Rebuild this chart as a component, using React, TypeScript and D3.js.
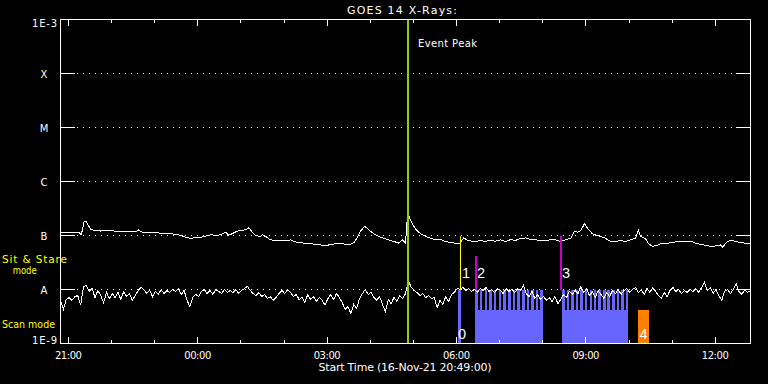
import React from "react";
import * as d3 from "d3";

// ---------------- data ----------------
const startTime = Date.UTC(2021, 10, 16, 20, 49, 0); // 16-Nov-21 20:49:00
const durationHours = 16;
const titleText = "GOES 14 X-Rays:";
const axisTitle = "Start Time (16-Nov-21 20:49:00)";

const levelLabels = ["1E-3", "X", "M", "C", "B", "A", "1E-9"];
const levelFlux = [1e-3, 1e-4, 1e-5, 1e-6, 1e-7, 1e-8, 1e-9];

// GOES long channel (1-8 A): [minutes after start, flux in 1e-9 W/m^2]
const longChannel: [number, number][] = [
  [0, 112], [26, 112], [29, 104], [33, 182], [36, 178], [42, 129], [49, 124], [56, 121], [63, 124], [70, 124],
  [77, 119], [84, 120], [90, 116], [97, 119], [104, 116], [109, 127], [113, 116], [118, 114], [125, 114], [132, 112],
  [139, 111], [146, 108], [153, 107], [160, 106], [167, 101], [175, 92], [181, 89], [188, 91], [195, 93], [202, 97],
  [209, 103], [216, 101], [223, 103], [230, 115], [234, 101], [239, 108], [245, 119], [250, 124], [257, 127], [262, 139],
  [267, 115], [271, 100], [278, 96], [281, 103], [287, 93], [292, 83], [299, 81], [306, 82], [313, 80], [320, 83],
  [328, 75], [334, 73], [341, 72], [348, 70], [355, 69], [362, 67], [369, 64], [376, 69], [383, 70], [390, 71],
  [397, 69], [404, 69], [409, 75], [413, 93], [417, 119], [423, 147], [427, 137], [431, 120], [438, 103], [445, 93],
  [452, 87], [459, 81], [466, 76], [470, 72], [476, 83], [480, 72], [483, 267], [487, 190], [491, 153], [495, 127],
  [501, 108], [508, 96], [515, 89], [522, 83], [529, 84], [536, 77], [543, 74], [550, 72], [555, 70], [561, 91],
  [565, 83], [570, 80], [577, 76], [584, 81], [591, 77], [598, 82], [605, 78], [612, 83], [619, 77], [626, 84],
  [633, 81], [640, 89], [647, 90], [654, 84], [661, 83], [668, 81], [675, 80], [682, 84], [689, 83], [696, 77],
  [703, 84], [710, 89], [715, 120], [719, 115], [724, 124], [729, 165], [735, 127], [740, 108], [746, 100], [751, 96],
  [758, 89], [765, 78], [772, 77], [779, 81], [786, 77], [793, 83], [800, 89], [804, 124], [807, 96], [814, 87],
  [818, 70], [824, 63], [829, 65], [835, 70], [842, 72], [849, 73], [856, 76], [863, 78], [870, 76], [877, 78],
  [884, 72], [890, 69], [897, 66], [904, 63], [911, 64], [918, 67], [921, 61], [927, 75], [932, 81], [939, 78],
  [946, 74], [953, 72], [960, 70],
];

// GOES short channel (0.5-4 A): one value every 4 minutes, flux in 1e-9 W/m^2
const shortCadenceMin = 4;
const shortChannel: number[] = [
  6.3, 4.3, 6.5, 7.1, 6.3, 7.4, 7.7, 5.1, 11.4, 11.9,
  9.2, 10.4, 7.1, 9.6, 7.7, 5.7, 8.8, 6.8, 8.4, 7.1,
  8.8, 6.5, 9.2, 7.4, 8.4, 6.3, 7.7, 9.6, 10.9, 10.0,
  8.4, 9.6, 7.4, 9.2, 8.1, 10.0, 8.4, 9.6, 8.8, 10.0,
  9.2, 10.4, 8.1, 9.6, 6.3, 4.8, 7.1, 8.1, 7.4, 9.2,
  10.0, 8.4, 9.6, 8.1, 10.0, 9.2, 8.4, 10.0, 8.8, 9.6,
  8.8, 10.0, 8.4, 9.6, 10.4, 11.4, 9.6, 8.4, 7.7, 8.8,
  7.4, 8.1, 6.8, 7.4, 6.3, 7.1, 8.4, 9.6, 8.4, 10.0,
  8.8, 7.4, 8.1, 6.5, 7.1, 5.7, 8.1, 6.5, 7.4, 6.0,
  7.1, 6.3, 5.1, 6.8, 8.1, 6.5, 8.4, 7.1, 5.7, 4.3,
  4.8, 3.6, 5.3, 4.4, 6.8, 8.4, 10.0, 8.1, 8.8, 7.1,
  6.3, 7.4, 5.3, 3.9, 6.5, 5.5, 7.1, 6.0, 7.7, 6.8,
  8.4, 14.7, 10.9, 9.6, 8.8, 7.7, 8.4, 7.1, 7.7, 6.8,
  7.1, 4.6, 6.3, 5.3, 7.4, 6.0, 8.1, 8.8, 10.4, 10.0,
  10.9, 9.6, 10.4, 9.2, 10.0, 8.8, 10.4, 9.6, 10.9, 9.2,
  10.0, 8.8, 10.4, 9.6, 8.4, 10.4, 9.2, 10.0, 8.8, 10.4,
  9.6, 11.9, 8.4, 7.4, 9.2, 6.8, 8.1, 6.5, 7.4, 6.3,
  7.1, 6.0, 7.4, 5.5, 6.5, 8.1, 7.1, 9.2, 8.1, 9.6,
  8.4, 11.4, 8.8, 10.4, 7.7, 9.2, 7.1, 9.6, 8.1, 6.8,
  8.8, 7.4, 9.6, 8.4, 10.0, 8.1, 9.6, 10.4, 8.8, 10.0,
  10.9, 8.8, 10.0, 8.1, 10.4, 8.8, 10.9, 9.2, 7.7, 6.8,
  8.8, 7.4, 9.6, 10.9, 9.2, 10.0, 8.4, 9.6, 8.8, 10.0,
  9.2, 10.4, 8.8, 10.9, 13.5, 9.6, 10.9, 8.4, 10.0, 7.7,
  6.3, 9.2, 10.0, 8.4, 10.0, 12.9, 9.2, 8.1, 10.0, 8.8, 9.6,
];

const eventPeakMin = 483.5;
const eventPeakLabel = "Event Peak";

// mode labels on the left
const sitStareLines = ["Sit & Stare", "mode"];
const scanModeLabel = "Scan mode";

// scan-mode observations (minutes after start)
const scanBlocks: [number, number][] = [[577, 671.3], [697.7, 790]];
const scanDwellMin = 3.6;
const scanStarts = [
  577, 583.5, 590, 596.5, 603, 609.5, 616, 622.5, 629, 635.5, 642, 648.5, 654.5, 661, 667.5,
  698, 704, 710.5, 717, 723, 729.5, 736, 742, 748.5, 755, 761, 767.5, 774, 780, 786.5,
];
const scanBaseFlux = 4.1e-9;
const scanTopFlux = 1e-8;

// numbered pointings: sit & stare lines
const stareLabels = ["1", "2", "3"];
const stareMin = [556.5, 577.4, 696.8];
const stareTopFlux = [1e-7, 4.2e-8, 1e-7];
const stareBottomFlux = 1e-8;

// numbered pointings: boxes
const boxLabels = ["0", "4"];
const boxStartMin = [553, 803.4];
const boxEndMin = [556.8, 818.3];
const boxTopFlux = [1e-8, 4.1e-9];

// ---------------- chart ----------------
export default function App() {
  const W = 768;
  const H = 384;
  const left = 60.5;
  const right = 750.5;
  const top = 19.5;
  const bottom = 343.5;

  const t0 = new Date(startTime);
  const t1 = new Date(startTime + durationHours * 3600e3);
  const x = d3.scaleUtc().domain([t0, t1]).range([left, right]);
  const y = d3.scaleLog().domain([1e-9, 1e-3]).range([bottom, top]);
  const tm = (m: number) => new Date(startTime + m * 60000);
  const px = (m: number) => x(tm(m));
  const crisp = (v: number) => Math.floor(v) + 0.5;

  const line = d3.line<[number, number]>().x((d) => d[0]).y((d) => d[1]);
  const longPath = line(longChannel.map(([m, v]) => [px(m), y(v * 1e-9)] as [number, number])) || "";
  const shortPath = line(shortChannel.map((v, i) => [px(i * shortCadenceMin), y(v * 1e-9)] as [number, number])) || "";

  const hourTicks = x.ticks(d3.utcHour.every(1) as any);
  const fmt = d3.utcFormat("%H:%M");

  const stareColors = ["#ffff00", "#cc00cc", "#cc00cc"];
  const stareWidths = [1, 2, 2];
  const boxColors = ["#6666ff", "#ff8000"];

  const font = "DejaVu Sans";

  return (
    <svg
      width={W}
      height={H}
      style={{ position: "absolute", left: 0, top: 0, display: "block" }}
      fontFamily={font}
    >
      <rect width={W} height={H} fill="#000" />

      {/* scan blocks */}
      <g fill="#6666ff" shapeRendering="crispEdges">
        {scanBlocks.map(([s, e], i) => (
          <rect key={"b" + i} x={px(s)} y={y(scanBaseFlux)} width={px(e) - px(s)} height={bottom - y(scanBaseFlux)} />
        ))}
        {scanStarts.map((s, i) => (
          <rect key={"s" + i} x={px(s)} y={y(scanTopFlux)} width={px(s + scanDwellMin) - px(s)} height={bottom - y(scanTopFlux)} />
        ))}
      </g>

      {/* boxes 0 and 4 */}
      <g shapeRendering="crispEdges">
        {boxLabels.map((l, i) => (
          <rect
            key={l}
            x={px(boxStartMin[i])}
            y={y(boxTopFlux[i])}
            width={px(boxEndMin[i]) - px(boxStartMin[i])}
            height={bottom - y(boxTopFlux[i])}
            fill={boxColors[i]}
          />
        ))}
      </g>

      {/* dotted class levels */}
      <g stroke="#fff" strokeWidth={1} shapeRendering="crispEdges">
        {levelFlux.slice(1, 6).map((f, i) => (
          <g key={i}>
            <line x1={77} x2={736} y1={y(f)} y2={y(f)} strokeDasharray="1 5" />
            <line x1={left} x2={75} y1={y(f)} y2={y(f)} />
            <line x1={736} x2={right} y1={y(f)} y2={y(f)} />
          </g>
        ))}
      </g>

      {/* curves */}
      <g fill="none" stroke="#fff" strokeWidth={1} shapeRendering="crispEdges">
        <path d={longPath} />
        <path d={shortPath} />
      </g>

      {/* sit & stare markers */}
      <g shapeRendering="crispEdges">
        {stareLabels.map((l, i) => (
          <line
            key={l}
            x1={stareWidths[i] === 1 ? crisp(px(stareMin[i])) : Math.round(px(stareMin[i]))}
            x2={stareWidths[i] === 1 ? crisp(px(stareMin[i])) : Math.round(px(stareMin[i]))}
            y1={y(stareTopFlux[i])}
            y2={y(stareBottomFlux)}
            stroke={stareColors[i]}
            strokeWidth={stareWidths[i]}
          />
        ))}
      </g>

      {/* event peak */}
      <line
        x1={Math.round(px(eventPeakMin))}
        x2={Math.round(px(eventPeakMin))}
        y1={top}
        y2={bottom}
        stroke="#99cc00"
        strokeWidth={2}
        shapeRendering="crispEdges"
      />
      <text x={418} y={47} fill="#fff" fontSize={10} textLength={59} lengthAdjust="spacing">
        {eventPeakLabel}
      </text>

      {/* pointing numbers */}
      <g fill="#fff" fontFamily="Liberation Sans" fontSize={14.5}>
        {stareLabels.map((l, i) => (
          <text key={l} x={Math.round(px(stareMin[i])) + (i === 0 ? 2 : 1)} y={277.5}>
            {l}
          </text>
        ))}
        {boxLabels.map((l, i) => (
          <text key={l} x={px(boxStartMin[i]) + (i === 0 ? 0 : 1.5)} y={338.5}>
            {l}
          </text>
        ))}
      </g>

      {/* axes box */}
      <rect x={left} y={top} width={right - left} height={bottom - top} fill="none" stroke="#fff" strokeWidth={1} shapeRendering="crispEdges" />

      {/* time ticks */}
      <g stroke="#fff" strokeWidth={1} shapeRendering="crispEdges">
        {hourTicks.map((t, i) => {
          const major = t.getUTCHours() % 3 === 0;
          const xx = crisp(x(t));
          return (
            <g key={i}>
              <line x1={xx} x2={xx} y1={top} y2={top + (major ? 6.5 : 3.5)} />
              <line x1={xx} x2={xx} y1={bottom} y2={bottom - (major ? 7 : 4)} />
            </g>
          );
        })}
      </g>
      <g fill="#fff" fontSize={10} textAnchor="middle">
        {hourTicks
          .filter((t) => t.getUTCHours() % 3 === 0)
          .map((t, i) => (
            <text key={i} x={x(t)} y={358.5} textLength={27} lengthAdjust="spacing">
              {fmt(t)}
            </text>
          ))}
      </g>

      {/* level labels */}
      <g fill="#fff" fontSize={10}>
        {levelLabels.map((l, i) => {
          const yy = y(levelFlux[i]);
          if (i === 0)
            return (
              <text key={l} x={57} y={yy + 7.5} textAnchor="end" textLength={25} lengthAdjust="spacing">
                {l}
              </text>
            );
          if (i === levelLabels.length - 1)
            return (
              <text key={l} x={57} y={yy} textAnchor="end" textLength={25} lengthAdjust="spacing">
                {l}
              </text>
            );
          return (
            <text key={l} x={44} y={yy + 4.2} textAnchor="middle">
              {l}
            </text>
          );
        })}
      </g>

      {/* mode labels */}
      <g fill="#ffff00" fontSize={10.5}>
        <text x={2} y={262.7} textLength={65} lengthAdjust="spacing">
          {sitStareLines[0]}
        </text>
        <text x={12.7} y={274.3} textLength={24} lengthAdjust="spacingAndGlyphs">
          {sitStareLines[1]}
        </text>
        <text x={2} y={327.7} fontSize={11} textLength={53} lengthAdjust="spacingAndGlyphs">
          {scanModeLabel}
        </text>
      </g>

      {/* titles */}
      <text x={402} y={13.5} fill="#fff" fontSize={11} textAnchor="middle" textLength={110} lengthAdjust="spacing">
        {titleText}
      </text>
      <text x={405} y={371} fill="#fff" fontSize={11} textAnchor="middle" textLength={173} lengthAdjust="spacing">
        {axisTitle}
      </text>
    </svg>
  );
}
